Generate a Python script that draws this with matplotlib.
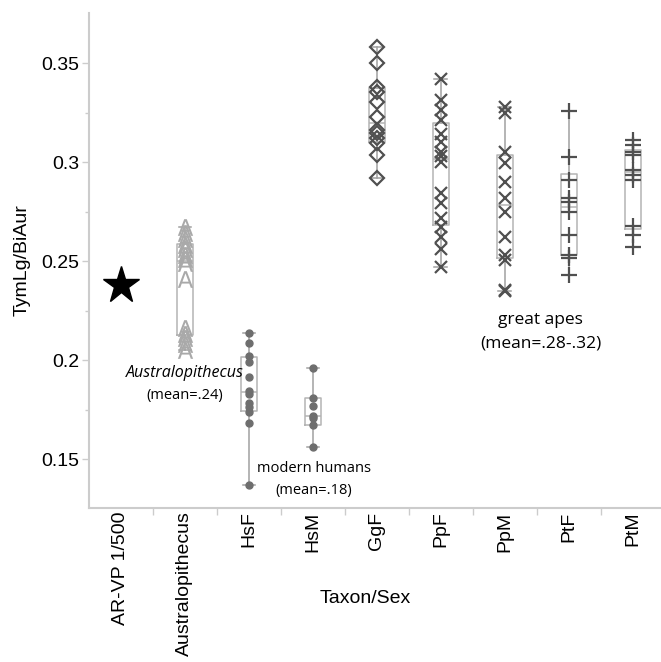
import matplotlib
matplotlib.use("Agg")
import matplotlib.pyplot as plt
from matplotlib import cbook
from matplotlib.ticker import FixedLocator
import numpy as np

categories = ["AR-VP 1/500", "Australopithecus", "HsF", "HsM", "GgF", "PpF", "PpM", "PtF", "PtM"]
arvp = [0.238]
aus = [0.267, 0.264, 0.261, 0.258, 0.256, 0.253, 0.251, 0.249, 0.241, 0.216, 0.213, 0.211, 0.208, 0.205]
hsf = [0.2137, 0.2088, 0.2022, 0.1992, 0.1917, 0.1846, 0.183, 0.1784, 0.1765, 0.1738, 0.1684, 0.137]
hsm = [0.196, 0.181, 0.1766, 0.172, 0.171, 0.1673, 0.1563]
ggf = [0.358, 0.350, 0.338, 0.3355, 0.3305, 0.323, 0.316, 0.3148, 0.312, 0.3097, 0.3036, 0.292]
ppf = [0.342, 0.3315, 0.3265, 0.3215, 0.314, 0.310, 0.305, 0.303, 0.300, 0.2845, 0.2795, 0.272, 0.267, 0.262, 0.256, 0.247]
ppm = [0.328, 0.325, 0.305, 0.2997, 0.290, 0.282, 0.275, 0.262, 0.2532, 0.2507, 0.2355, 0.235]
ptf = [0.326, 0.3027, 0.291, 0.282, 0.280, 0.275, 0.2633, 0.2532, 0.2517, 0.243]
ptm = [0.3113, 0.3088, 0.305, 0.3035, 0.296, 0.2936, 0.291, 0.2675, 0.2633, 0.2573]

groups = [aus, hsf, hsm, ggf, ppf, ppm, ptf, ptm]
positions = [1, 2, 3, 4, 5, 6, 7, 8]

fig = plt.figure(figsize=(6.61, 6.62), dpi=100)
ax = fig.add_axes([0.1346, 0.2326, 0.8654, 0.7478])

# box statistics (quartiles by the (n+1)p rule), whiskers to min/max
stats = []
for d in groups:
    s = cbook.boxplot_stats(d, whis=(0, 100))[0]
    q1, med, q3 = np.percentile(d, [25, 50, 75], method="weibull")
    s["q1"], s["med"], s["q3"] = q1, med, q3
    s["fliers"] = []
    stats.append(s)

boxgray = "#b4b4b4"
ax.bxp(stats, positions=positions, widths=0.24, showfliers=False,
       boxprops=dict(color=boxgray, linewidth=1.1),
       whiskerprops=dict(color="#a0a0a0", linewidth=1.1),
       capprops=dict(color="#a0a0a0", linewidth=1.1),
       medianprops=dict(color=boxgray, linewidth=1.1),
       capwidths=0.2, manage_ticks=False, zorder=2)

# star
ax.plot([0] * len(arvp), arvp, marker="*", color="black", markersize=28, linestyle="none", zorder=3)
# Australopithecus 'A' markers
ax.plot([1] * len(aus), aus, marker=r"$\mathsf{A}$", color="#a9a9a9", markersize=12,
        markeredgewidth=0, linestyle="none", zorder=3)
# humans: dots
for p, d in [(2, hsf), (3, hsm)]:
    ax.plot([p] * len(d), d, marker="o", color="#6e6e6e", markersize=5, linestyle="none", zorder=3)
# gorilla: open diamonds
ax.plot([4] * len(ggf), ggf, marker="D", markerfacecolor="none", markeredgecolor="#505050",
        markeredgewidth=1.6, markersize=7, linestyle="none", zorder=3)
# Pan paniscus: x
for p, d in [(5, ppf), (6, ppm)]:
    ax.plot([p] * len(d), d, marker="x", color="#505050", markeredgewidth=1.6, markersize=9,
            linestyle="none", zorder=3)
# Pan troglodytes: +
for p, d in [(7, ptf), (8, ptm)]:
    ax.plot([p] * len(d), d, marker="+", color="#505050", markeredgewidth=1.6, markersize=11,
            linestyle="none", zorder=3)

ax.set_xlim(-0.5, 8.44)
ax.set_ylim(0.1253, 0.3753)

for s in ["top", "right"]:
    ax.spines[s].set_visible(False)
for s in ["left", "bottom"]:
    ax.spines[s].set_color("#cccccc")
    ax.spines[s].set_linewidth(1.5)

tickfont = "Liberation Sans"
ax.yaxis.set_major_locator(FixedLocator([0.15, 0.2, 0.25, 0.3, 0.35]))
ax.set_yticklabels(["0.15", "0.2", "0.25", "0.3", "0.35"], fontsize=14, family=tickfont)
ax.yaxis.set_minor_locator(FixedLocator([0.175, 0.225, 0.275, 0.325]))
ax.tick_params(axis="y", which="major", length=5, width=1, color="#cccccc", pad=2)
ax.tick_params(axis="y", which="minor", length=3, width=1, color="#cccccc")

ax.set_xticks(range(len(categories)))
ax.set_xticklabels(categories, rotation=90, fontsize=14, family=tickfont)
ax.xaxis.set_minor_locator(FixedLocator([i + 0.5 for i in range(8)]))
ax.tick_params(axis="x", which="major", length=0, pad=2.5)
ax.tick_params(axis="x", which="minor", length=5, width=1, color="#cccccc")

ax.set_ylabel("TymLg/BiAur", fontsize=14, family=tickfont, labelpad=8)
ax.set_xlabel("Taxon/Sex", fontsize=14, family=tickfont)
ax.xaxis.set_label_coords(0.4825, -0.166)

annfont = "Open Sans"
ax.text(1, 0.1937, "Australopithecus", style="italic", fontsize=11.5, family=annfont,
        ha="center", va="center")
ax.text(1, 0.1822, "(mean=.24)", fontsize=10.5, family=annfont, ha="center", va="center")
ax.text(3.02, 0.1455, "modern humans", fontsize=10.5, family=annfont, ha="center", va="center")
ax.text(3.02, 0.1340, "(mean=.18)", fontsize=10.5, family=annfont, ha="center", va="center")
ax.text(6.56, 0.2200, "great apes", fontsize=12.5, family=annfont, ha="center", va="center")
ax.text(6.56, 0.2085, "(mean=.28-.32)", fontsize=12.5, family=annfont, ha="center", va="center")

fig.savefig("out.png", dpi=100)
